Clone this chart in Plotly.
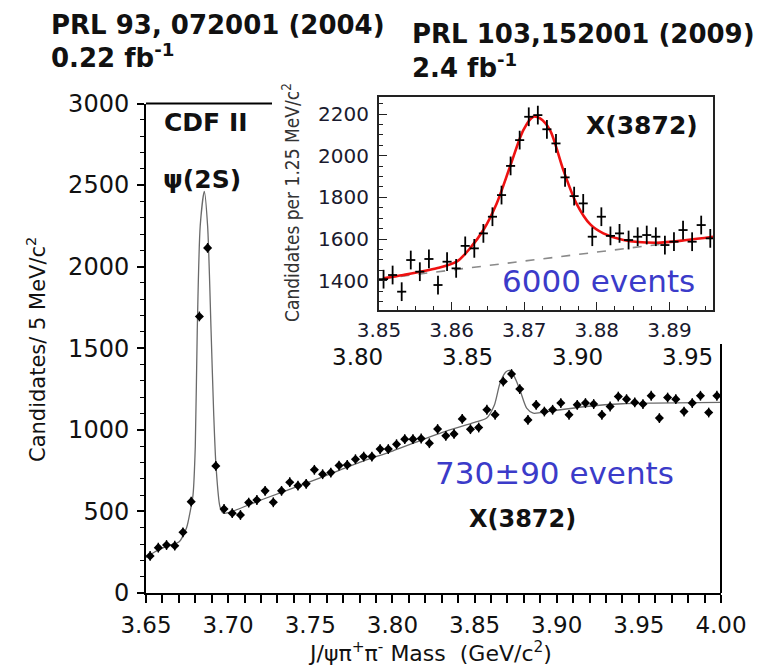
import plotly.graph_objects as go

# ---------------- data ----------------
# main plot (PRL 93, 072001): J/psi pi+ pi- mass, 5 MeV bins
main_mass = [3.6525, 3.6575, 3.6625, 3.6675, 3.6725, 3.6775, 3.6825, 3.6875, 3.6925, 3.6975,
             3.7025, 3.7075, 3.7125, 3.7175, 3.7225, 3.7275, 3.7325, 3.7375, 3.7425, 3.7475,
             3.7525, 3.7575, 3.7625, 3.7675, 3.7725, 3.7775, 3.7825, 3.7875, 3.7925, 3.7975,
             3.8025, 3.8075, 3.8125, 3.8175, 3.8225, 3.8275, 3.8325, 3.8375, 3.8425, 3.8475,
             3.8525, 3.8575, 3.8625, 3.8675, 3.8725, 3.8775, 3.8825, 3.8875, 3.8925, 3.8975,
             3.9025, 3.9075, 3.9125, 3.9175, 3.9225, 3.9275, 3.9325, 3.9375, 3.9425, 3.9475,
             3.9525, 3.9575, 3.9625, 3.9675, 3.9725, 3.9775, 3.9825, 3.9875, 3.9925, 3.9975]
main_counts = [227, 278, 294, 290, 372, 560, 1695, 2115, 779, 515,
               489, 478, 554, 570, 626, 556, 626, 679, 658, 669,
               755, 728, 738, 781, 785, 820, 836, 836, 882, 882,
               912, 943, 943, 947, 918, 1005, 963, 975, 1067, 1004,
               1014, 1123, 1092, 1296, 1342, 1250, 1061, 1153, 1112, 1123,
               1164, 1092, 1153, 1164, 1158, 1092, 1143, 1204, 1188, 1168,
               1158, 1209, 1072, 1198, 1188, 1112, 1164, 1209, 1106, 1209]
main_err = 30

# main fit curve
fit_mass = [3.650, 3.655, 3.660, 3.665, 3.670, 3.6747, 3.6770, 3.6786, 3.6800, 3.6812,
            3.6830, 3.6855, 3.6875, 3.6896, 3.6912, 3.6926, 3.6950, 3.6970, 3.7000, 3.7200,
            3.7500, 3.7800, 3.8000, 3.8300, 3.8500, 3.8574, 3.8620, 3.8655, 3.8690, 3.8715,
            3.8745, 3.8776, 3.8817, 3.8857, 3.8900, 3.9000, 3.9180, 3.9400, 3.9588, 4.0000]
fit_counts = [218, 250, 275, 295, 312, 400, 505, 600, 900, 1610,
              2250, 2462, 2250, 1610, 1100, 780, 530, 490, 492, 570,
              682, 800, 870, 983, 1045, 1072, 1150, 1287, 1355, 1364,
              1320, 1245, 1133, 1102, 1105, 1120, 1143, 1160, 1164, 1168]

# inset (PRL 103, 152001): 1.25 MeV bins
inset_mass = [3.850625, 3.851875, 3.853125, 3.854375, 3.855625, 3.856875, 3.858125, 3.859375,
              3.860625, 3.861875, 3.863125, 3.864375, 3.865625, 3.866875, 3.868125, 3.869375,
              3.870625, 3.871875, 3.873125, 3.874375, 3.875625, 3.876875, 3.878125, 3.879375,
              3.880625, 3.881875, 3.883125, 3.884375, 3.885625, 3.886875, 3.888125, 3.889375,
              3.890625, 3.891875, 3.893125, 3.894375, 3.895625]
inset_counts = [1407, 1427, 1347, 1499, 1443, 1504, 1379, 1491,
                1459, 1567, 1555, 1627, 1707, 1811, 1951, 2075,
                2187, 2195, 2127, 2059, 1896, 1806, 1771, 1611,
                1707, 1615, 1627, 1595, 1611, 1619, 1611, 1571,
                1587, 1643, 1587, 1667, 1603]
inset_err = 45
inset_halfbin = 0.000625

inset_fit_mass = [3.85059, 3.85335, 3.85795, 3.86070, 3.86253, 3.86437, 3.86621, 3.86804,
                  3.86988, 3.87125, 3.87218, 3.87355, 3.87540, 3.87720, 3.87910, 3.88090,
                  3.88365, 3.88825, 3.89238, 3.89600]
inset_fit_counts = [1411, 1427, 1459, 1491, 1555, 1643, 1771, 1947,
                    2123, 2187, 2179, 2123, 1930, 1770, 1670, 1627,
                    1595, 1582, 1595, 1611]

bkg_mass = [3.8505, 3.8895]
bkg_counts = [1410, 1578]

main_xticks = [3.65, 3.70, 3.75, 3.80, 3.85, 3.90, 3.95, 4.00]
extra_top_labels = ["3.80", "3.85", "3.90", "3.95"]

# ---------------- layout geometry ----------------
W, H = 771, 670
ML, MR, MT, MB = 146, 50, 90, 77
PW = W - ML - MR
PH = H - MT - MB


def pxx(x):
    return (x - ML) / PW


def pyy(y):
    return (H - MB - y) / PH


FONT = "DejaVu Sans"
BLUE = "#3b3bc9"

fig = go.Figure()

fig.add_trace(go.Scatter(
    x=fit_mass, y=fit_counts, mode="lines",
    line=dict(color="#6a6a6a", width=1.3, shape="spline", smoothing=0.7),
    xaxis="x", yaxis="y", hoverinfo="skip", showlegend=False))

fig.add_trace(go.Scatter(
    x=main_mass, y=main_counts, mode="markers",
    marker=dict(symbol="diamond", size=7, color="black"),
    error_y=dict(type="constant", value=main_err, thickness=1.4, width=0, color="black"),
    xaxis="x", yaxis="y", showlegend=False))

fig.add_trace(go.Scatter(
    x=bkg_mass, y=bkg_counts, mode="lines",
    line=dict(color="#8a8a8a", width=1.6, dash="dash"),
    xaxis="x2", yaxis="y2", hoverinfo="skip", showlegend=False))

fig.add_trace(go.Scatter(
    x=inset_fit_mass, y=inset_fit_counts, mode="lines",
    line=dict(color="#ee1111", width=2.6, shape="spline", smoothing=0.8),
    xaxis="x2", yaxis="y2", hoverinfo="skip", showlegend=False))

fig.add_trace(go.Scatter(
    x=inset_mass, y=inset_counts, mode="markers",
    marker=dict(size=2, color="black"),
    error_y=dict(type="constant", value=inset_err, thickness=1.8, width=0, color="black"),
    error_x=dict(type="constant", value=inset_halfbin, thickness=1.8, width=0, color="black"),
    xaxis="x2", yaxis="y2", showlegend=False))

main_top = pyy(103.5)

fig.update_layout(
    width=W, height=H,
    margin=dict(l=ML, r=MR, t=MT, b=MB),
    paper_bgcolor="white", plot_bgcolor="white",
    font=dict(family=FONT, color="#111111"),
    showlegend=False,
    xaxis=dict(
        domain=[0, 1], range=[3.65, 4.00], anchor="y",
        tickvals=main_xticks, ticktext=[f"{v:.2f}" for v in main_xticks],
        ticks="outside", ticklen=8, tickwidth=1.5, tickcolor="black",
        minor=dict(dtick=0.01, tick0=3.65, ticks="outside", ticklen=8, tickwidth=1.5, tickcolor="black"),
        showline=True, linewidth=2, linecolor="black",
        showgrid=False, zeroline=False,
        tickfont=dict(family=FONT, size=23, color="#111111"),
        ticklabelstandoff=2,
    ),
    yaxis=dict(
        domain=[0, main_top], range=[0, 3000], anchor="x",
        dtick=500, tick0=0,
        ticks="outside", ticklen=7, tickwidth=1.5, tickcolor="black",
        minor=dict(dtick=100, ticks="outside", ticklen=4, tickwidth=1.2, tickcolor="black"),
        showline=True, linewidth=2, linecolor="black",
        showgrid=False, zeroline=False,
        tickfont=dict(family=FONT, size=24, color="#111111"),
        ticklabelstandoff=3,
    ),
    xaxis2=dict(
        domain=[pxx(379), pxx(713)], range=[3.85, 3.896], anchor="y2",
        dtick=0.01, tick0=3.85, tickformat=".2f",
        ticks="inside", ticklen=8, tickwidth=1.3, tickcolor="#222",
        minor=dict(dtick=0.0025, tick0=3.85, ticks="inside", ticklen=4, tickwidth=1, tickcolor="#222"),
        showline=True, linewidth=2, linecolor="#222", mirror=True,
        showgrid=False, zeroline=False,
        tickfont=dict(family=FONT, size=20, color="#1a1a2e"),
        ticklabelstandoff=1,
    ),
    yaxis2=dict(
        domain=[pyy(310), pyy(97)], range=[1259, 2282], anchor="x2",
        dtick=200, tick0=1400,
        ticks="inside", ticklen=8, tickwidth=1.3, tickcolor="#222",
        minor=dict(dtick=50, ticks="inside", ticklen=4, tickwidth=1, tickcolor="#222"),
        showline=True, linewidth=2, linecolor="#222", mirror=True,
        showgrid=False, zeroline=False,
        tickfont=dict(family=FONT, size=20, color="#1a1a2e"),
        ticklabelstandoff=4,
    ),
)

# partial frame of the main plot (the inset hides the rest)
fig.add_shape(type="line", xref="paper", yref="paper",
              x0=0, x1=pxx(272), y0=main_top, y1=main_top,
              line=dict(color="black", width=2))
fig.add_shape(type="line", xref="paper", yref="paper",
              x0=1, x1=1, y0=0, y1=pyy(344),
              line=dict(color="black", width=2))


def ann(text, x, y, size, color="#111111", bold=False, xanchor="center", angle=0, family=FONT):
    fig.add_annotation(
        text=(f"<b>{text}</b>" if bold else text),
        x=pxx(x), y=pyy(y), xref="paper", yref="paper",
        xanchor=xanchor, yanchor="middle", showarrow=False, textangle=angle,
        font=dict(family=family, size=size, color=color))


ann("PRL 93, 072001 (2004)", 49, 25, 26, bold=True, xanchor="left")
ann("0.22 fb<sup>-1</sup>", 49, 56, 26, bold=True, xanchor="left")
ann("PRL 103,152001 (2009)", 410, 34, 26, bold=True, xanchor="left")
ann("2.4 fb<sup>-1</sup>", 410, 66, 26, bold=True, xanchor="left")

ann("CDF II", 205, 122, 25, bold=True)
ann("\u03c8(2S)", 202, 180, 25, bold=True)
ann("X(3872)", 642, 125, 25, bold=True)
ann("6000 events", 598, 281, 31, color=BLUE)
ann("730\u00b190 events", 554, 473, 31, color=BLUE)
ann("X(3872)", 522, 519, 24, bold=True)

for lab, xc in zip(extra_top_labels, [357, 467, 577, 687]):
    ann(lab, xc, 357, 23)

ann("Candidates/ 5 MeV/c<sup>2</sup>", 36, 350, 21, angle=-90)
ann("Candidates per 1.25 MeV/c<sup>2</sup>", 291, 203, 19, color="#333333", angle=-90,
    family="Liberation Sans Narrow, DejaVu Sans Condensed, Arial Narrow, sans-serif")
ann("J/\u03c8\u03c0<sup>+</sup>\u03c0<sup>-</sup> Mass \u00a0(GeV/c<sup>2</sup>)", 430, 652, 22)

fig.write_html("out.html")
